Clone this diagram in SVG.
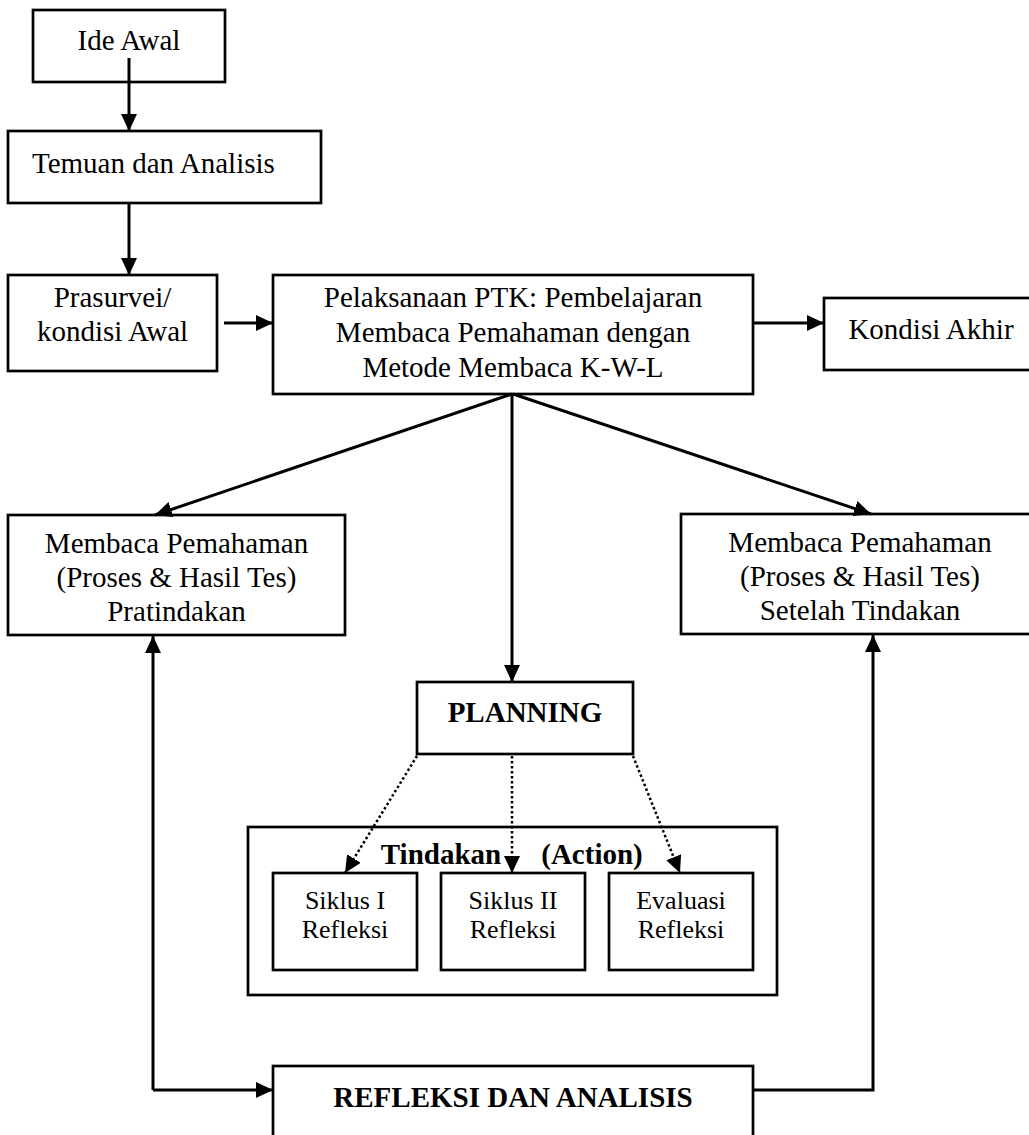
<svg xmlns="http://www.w3.org/2000/svg" width="1029" height="1135" viewBox="0 0 1029 1135">
<defs>
<marker id="ah" markerUnits="userSpaceOnUse" markerWidth="18" markerHeight="16" refX="17" refY="8" orient="auto">
<path d="M0,0 L17,8 L0,16 Z" fill="#000"/>
</marker>
<style>
.box{fill:#fff;stroke:#000;stroke-width:2.7}
.t{font-family:"Liberation Serif","Times New Roman",serif;font-size:29px;fill:#000;text-anchor:middle}
.b{font-weight:bold}
.s{font-size:26px}
.ln{fill:none;stroke:#000;stroke-width:3}
.dt{fill:none;stroke:#000;stroke-width:2.5;stroke-dasharray:2.5 2.5}
</style>
</defs>
<rect width="1029" height="1135" fill="#fff"/>

<g id="ide-awal">
<rect class="box" x="33" y="10" width="192" height="72"/>
<text class="t" x="129" y="50">Ide Awal</text>
</g>

<g id="temuan">
<rect class="box" x="8" y="131" width="313" height="72"/>
<text class="t" x="32" y="173" style="text-anchor:start">Temuan dan Analisis</text>
</g>

<g id="prasurvei">
<rect class="box" x="8" y="275" width="209" height="96"/>
<text class="t" x="112.5" y="307">Prasurvei/</text>
<text class="t" x="112.5" y="341">kondisi Awal</text>
</g>

<g id="pelaksanaan">
<rect class="box" x="273" y="275" width="480" height="119"/>
<text class="t" x="513" y="307">Pelaksanaan PTK: Pembelajaran</text>
<text class="t" x="513" y="342">Membaca Pemahaman dengan</text>
<text class="t" x="513" y="377">Metode Membaca K-W-L</text>
</g>

<g id="kondisi-akhir">
<rect class="box" x="824" y="298" width="216" height="72"/>
<text class="t" x="931" y="339">Kondisi Akhir</text>
</g>

<g id="pratindakan">
<rect class="box" x="8" y="515" width="337" height="120"/>
<text class="t" x="176.5" y="553">Membaca Pemahaman</text>
<text class="t" x="176.5" y="587">(Proses &amp; Hasil Tes)</text>
<text class="t" x="176.5" y="621">Pratindakan</text>
</g>

<g id="setelah-tindakan">
<rect class="box" x="681" y="514" width="359" height="120"/>
<text class="t" x="860" y="552">Membaca Pemahaman</text>
<text class="t" x="860" y="586">(Proses &amp; Hasil Tes)</text>
<text class="t" x="860" y="620">Setelah Tindakan</text>
</g>

<g id="planning">
<rect class="box" x="417" y="682" width="216" height="72"/>
<text class="t b" x="525" y="722">PLANNING</text>
</g>

<g id="tindakan">
<rect class="box" x="248" y="827" width="529" height="168"/>
<text class="t b" y="864"><tspan x="441">Tindakan</tspan><tspan x="592">(Action)</tspan></text>
</g>

<g id="siklus-1">
<rect class="box" x="273" y="873" width="144" height="97"/>
<text class="t s" x="345" y="909">Siklus I</text>
<text class="t s" x="345" y="938">Refleksi</text>
</g>

<g id="siklus-2">
<rect class="box" x="441" y="873" width="144" height="97"/>
<text class="t s" x="513" y="909">Siklus II</text>
<text class="t s" x="513" y="938">Refleksi</text>
</g>

<g id="evaluasi">
<rect class="box" x="609" y="873" width="144" height="97"/>
<text class="t s" x="681" y="909">Evaluasi</text>
<text class="t s" x="681" y="938">Refleksi</text>
</g>

<g id="refleksi-analisis">
<rect class="box" x="273" y="1066" width="480" height="80"/>
<text class="t b" x="513" y="1107">REFLEKSI DAN ANALISIS</text>
</g>

<g id="connectors">
<line class="ln" x1="129" y1="58" x2="129" y2="131" marker-end="url(#ah)"/>
<line class="ln" x1="129" y1="203" x2="129" y2="275" marker-end="url(#ah)"/>
<line class="ln" x1="224" y1="323" x2="273" y2="323" marker-end="url(#ah)"/>
<line class="ln" x1="753" y1="323" x2="824" y2="323" marker-end="url(#ah)"/>
<line class="ln" x1="512" y1="394" x2="155" y2="515" marker-end="url(#ah)"/>
<line class="ln" x1="513" y1="394" x2="871" y2="514" marker-end="url(#ah)"/>
<line class="ln" x1="512" y1="394" x2="512" y2="682" marker-end="url(#ah)"/>
<line class="dt" x1="417" y1="756" x2="345" y2="873" marker-end="url(#ah)"/>
<line class="dt" x1="512" y1="756" x2="512" y2="873" marker-end="url(#ah)"/>
<line class="dt" x1="633" y1="756" x2="680" y2="873" marker-end="url(#ah)"/>
<polyline class="ln" points="153,1090 153,636" marker-end="url(#ah)"/>
<polyline class="ln" points="153,1090 273,1090" marker-end="url(#ah)"/>
<polyline class="ln" points="753,1090 873,1090 873,635" marker-end="url(#ah)"/>
</g>
</svg>
